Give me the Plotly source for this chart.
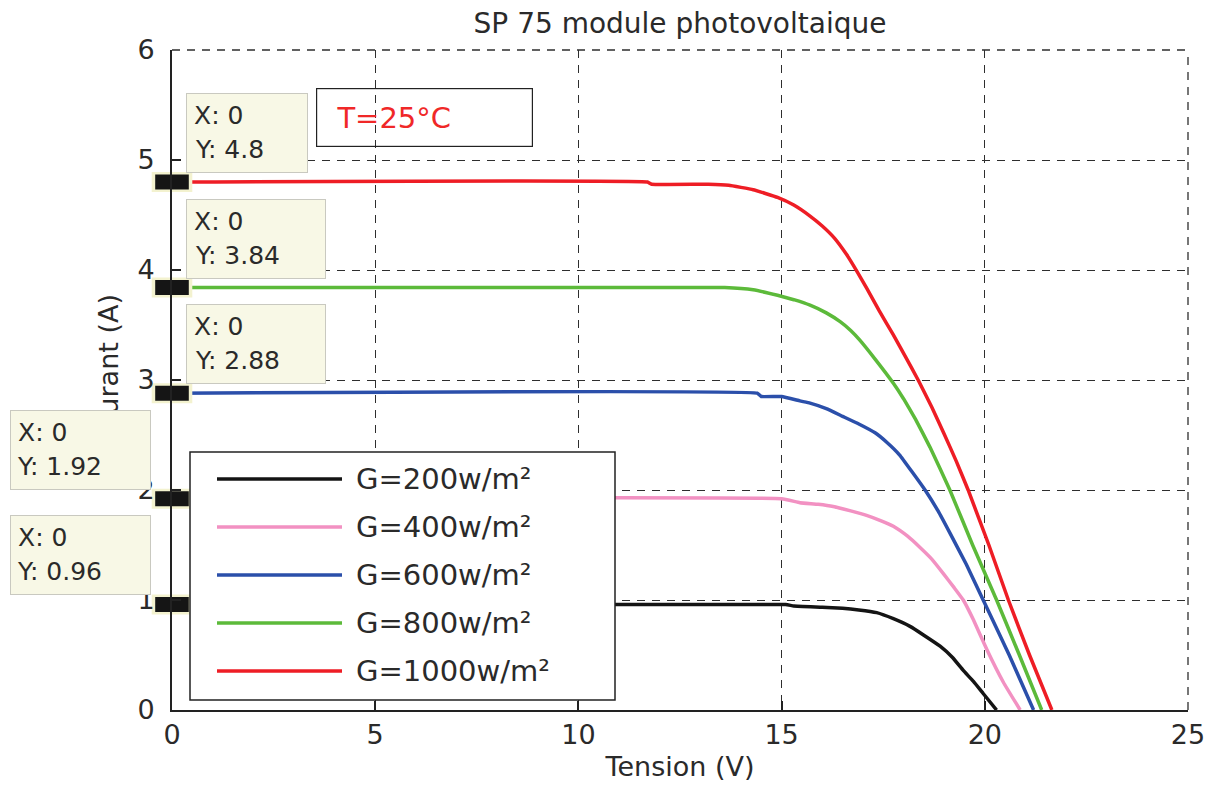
import plotly.graph_objects as go

# ---------------- data ----------------
irradiance = [200, 400, 600, 800, 1000]          # W/m^2
isc = [0.96, 1.92, 2.88, 3.84, 4.8]               # short-circuit currents (datatips)

v_200 = [0, 15.1, 15.3, 16.0, 16.5, 16.9, 17.34, 17.75, 18.16, 18.5, 18.9, 19.2, 19.47, 19.72, 19.96, 20.29]
i_200 = [0.96, 0.96, 0.945, 0.935, 0.925, 0.91, 0.885, 0.83, 0.76, 0.68, 0.58, 0.48, 0.36, 0.26, 0.15, 0]

v_400 = [0, 15.0, 15.45, 15.9, 16.27, 16.7, 17.09, 17.45, 17.75, 18.1, 18.4, 18.7, 18.98, 19.25, 19.47, 19.72,
         20.05, 20.46, 20.87]
i_400 = [1.92, 1.92, 1.885, 1.87, 1.85, 1.81, 1.77, 1.72, 1.67, 1.58, 1.48, 1.37, 1.24, 1.11, 1.0, 0.82,
         0.55, 0.25, 0]

v_600 = [0, 14.4, 14.5, 15.0, 15.45, 15.7, 16.1, 16.5, 16.9, 17.3, 17.6, 17.9, 18.2, 18.53, 18.85, 19.14,
         19.55, 19.96, 20.6, 21.2]
i_600 = [2.88, 2.88, 2.85, 2.85, 2.81, 2.79, 2.74, 2.67, 2.60, 2.52, 2.43, 2.32, 2.17, 2.0, 1.81, 1.61,
         1.32, 1.0, 0.5, 0]

v_800 = [0, 13.6, 14.3, 14.9, 15.3, 15.7, 16.1, 16.44, 16.7, 16.93, 17.3, 17.75, 18.0, 18.3, 18.65, 19.14,
         19.7, 20.29, 20.85, 21.4]
i_800 = [3.84, 3.84, 3.82, 3.77, 3.73, 3.68, 3.61, 3.53, 3.45, 3.36, 3.19, 2.97, 2.83, 2.64, 2.39, 2.0,
         1.5, 1.0, 0.5, 0]

v_1000 = [0, 11.7, 11.8, 13.2, 13.7, 14.3, 14.9, 15.3, 15.7, 16.0, 16.3, 16.6, 16.85, 17.1, 17.4, 17.75,
          18.05, 18.36, 18.7, 19.0, 19.3, 19.59, 20.1, 20.58, 21.1, 21.65]
i_1000 = [4.8, 4.8, 4.78, 4.78, 4.77, 4.73, 4.66, 4.59, 4.49, 4.40, 4.29, 4.14, 3.99, 3.83, 3.63, 3.41,
          3.21, 3.0, 2.75, 2.51, 2.26, 2.0, 1.5, 1.0, 0.5, 0]

voltages = [v_200, v_400, v_600, v_800, v_1000]
currents = [i_200, i_400, i_600, i_800, i_1000]

x_ticks = [0, 5, 10, 15, 20, 25]
y_ticks = [0, 1, 2, 3, 4, 5, 6]

title_text = "SP 75 module photovoltaique"
x_title = "Tension (V)"
y_title = "Courant (A)"
temp_label = "T=25°C"

# ---------------- style ----------------
colors = ["#141414", "#F291C2", "#2B4FAA", "#5CBA3A", "#EE1D25"]
FONT = "DejaVu Sans, Verdana, Arial, sans-serif"
TXT = "#2a2a2a"
GRID = "#2e2e2e"
DASH = "8px,7px"

OFF = 8                       # default page margin around the plot div
W, H = 1220 - 2 * OFF, 790 - 2 * OFF
PL, PR, PT, PB = 172, 1188, 50, 710      # plot area in screenshot pixels
ML, MT = PL - OFF, PT - OFF
MR = W - (PR - OFF)
MB = H - (PB - OFF)


def px_to_paper_x(px):
    return (px - PL) / (PR - PL)


def px_to_paper_y(py):
    return (PB - py) / (PB - PT)


fig = go.Figure()
for g, v, i, c in zip(irradiance, voltages, currents, colors):
    fig.add_trace(go.Scatter(x=v, y=i, mode="lines", name=f"G={g}w/m²",
                             line=dict(color=c, width=3.5, shape="spline", smoothing=0.3),
                             showlegend=False))

# datatip point markers (light rim + dark rectangle)
x_tip = [0] * len(isc)
fig.add_trace(go.Scatter(x=x_tip, y=isc, mode="markers", cliponaxis=False, showlegend=False,
                         hoverinfo="skip",
                         marker=dict(symbol="line-ew", size=29, color="#F3F2CF",
                                     line=dict(color="#F3F2CF", width=20))))
fig.add_trace(go.Scatter(x=x_tip, y=isc, mode="markers", cliponaxis=False, showlegend=False,
                         marker=dict(symbol="line-ew", size=24, color="#151515",
                                     line=dict(color="#151515", width=15))))

annotations = []
shapes = []

# top / right dashed frame (grid at range ends)
shapes.append(dict(type="line", xref="paper", yref="paper", x0=0, x1=1, y0=1, y1=1, layer="below",
                   line=dict(color=GRID, width=1.3, dash=DASH)))
shapes.append(dict(type="line", xref="paper", yref="paper", x0=1, x1=1, y0=0, y1=1, layer="below",
                   line=dict(color=GRID, width=1.3, dash=DASH)))

# y-axis title (drawn first so datatips cover it)
annotations.append(dict(text=y_title, xref="paper", yref="paper", x=px_to_paper_x(108),
                        y=px_to_paper_y(372), xanchor="center", yanchor="middle",
                        textangle=-90, showarrow=False, font=dict(family=FONT, size=27, color=TXT)))

# temperature box
annotations.append(dict(text="&nbsp;" + temp_label, xref="x", yref="y", x=3.54, y=5.655,
                        xanchor="left", yanchor="top", showarrow=False, align="left",
                        width=193, height=35, borderpad=11, bordercolor="#222", borderwidth=1.2,
                        font=dict(family=FONT, size=29, color="#F02828")))

# custom legend (opaque box)
leg_x0, leg_x1, leg_top, leg_bot = 190, 615, 452, 700
shapes.append(dict(type="rect", xref="paper", yref="paper", layer="above",
                   x0=px_to_paper_x(leg_x0), x1=px_to_paper_x(leg_x1),
                   y0=px_to_paper_y(leg_bot), y1=px_to_paper_y(leg_top),
                   fillcolor="white", line=dict(color="#222", width=1.5)))
for k, (g, c) in enumerate(zip(irradiance, colors)):
    ry = px_to_paper_y(479 + 48 * k)
    shapes.append(dict(type="line", xref="paper", yref="paper", layer="above",
                       x0=px_to_paper_x(217), x1=px_to_paper_x(342), y0=ry, y1=ry,
                       line=dict(color=c, width=3.5)))
    annotations.append(dict(text=f"G={g}w/m²", xref="paper", yref="paper",
                            x=px_to_paper_x(354), y=ry, xanchor="left", yanchor="middle",
                            showarrow=False, font=dict(family=FONT, size=29, color=TXT)))

# datatips: a box holding "X: 0" on top, plus a second line "Y: value"
tip_side = ["left", "left", "right", "right", "right"]
tip_width = [141, 141, 140, 140, 122]
tip_font = dict(family=FONT, size=25, color="#2a2a2a")
for val, side, tw in zip(isc, tip_side, tip_width):
    anchor = "left" if side == "right" else "right"
    xs = 14 if side == "right" else -21
    annotations.append(dict(text="X: 0", xref="x", yref="y", x=0, y=val,
                            xanchor=anchor, yanchor="bottom", xshift=xs, yshift=9,
                            showarrow=False, align="left", valign="top",
                            width=tw - 16, height=64, borderpad=7,
                            bgcolor="#F8F8E6", bordercolor="#C9C9C0", borderwidth=1,
                            font=tip_font))
    annotations.append(dict(text=f"Y: {val:g}", xref="x", yref="y", x=0, y=val,
                            xanchor=anchor, yanchor="bottom", xshift=xs, yshift=9,
                            showarrow=False, align="left", valign="bottom",
                            width=tw - 16, height=32, borderpad=8,
                            font=tip_font))

fig.update_layout(
    width=W, height=H,
    margin=dict(l=ML, r=MR, t=MT, b=MB, autoexpand=False),
    paper_bgcolor="white", plot_bgcolor="white",
    title=dict(text=title_text, x=0.5, xref="paper", xanchor="center",
               y=1 - (23 - OFF) / H, yref="container", yanchor="middle",
               font=dict(family=FONT, size=28, color=TXT)),
    xaxis=dict(range=[0, 25], tickvals=x_ticks, ticktext=[str(t) for t in x_ticks],
               automargin=False,
               showgrid=True, gridcolor=GRID, griddash=DASH, gridwidth=1.3,
               zeroline=False, showline=True, linecolor="#222", linewidth=1.8,
               ticks="inside", ticklen=9, tickcolor="#222", tickwidth=1.5,
               ticklabelstandoff=0,
               tickfont=dict(family=FONT, size=27, color=TXT),
               title=dict(text=x_title, standoff=10, font=dict(family=FONT, size=27, color=TXT))),
    yaxis=dict(range=[0, 6], tickvals=y_ticks, ticktext=[str(t) for t in y_ticks],
               automargin=False,
               showgrid=True, gridcolor=GRID, griddash=DASH, gridwidth=1.3,
               zeroline=False, showline=True, linecolor="#222", linewidth=1.8,
               ticks="inside", ticklen=9, tickcolor="#222", tickwidth=1.5,
               ticklabelstandoff=10,
               tickfont=dict(family=FONT, size=27, color=TXT)),
    annotations=annotations,
    shapes=shapes,
    showlegend=False,
)

fig.write_html("out.html")
